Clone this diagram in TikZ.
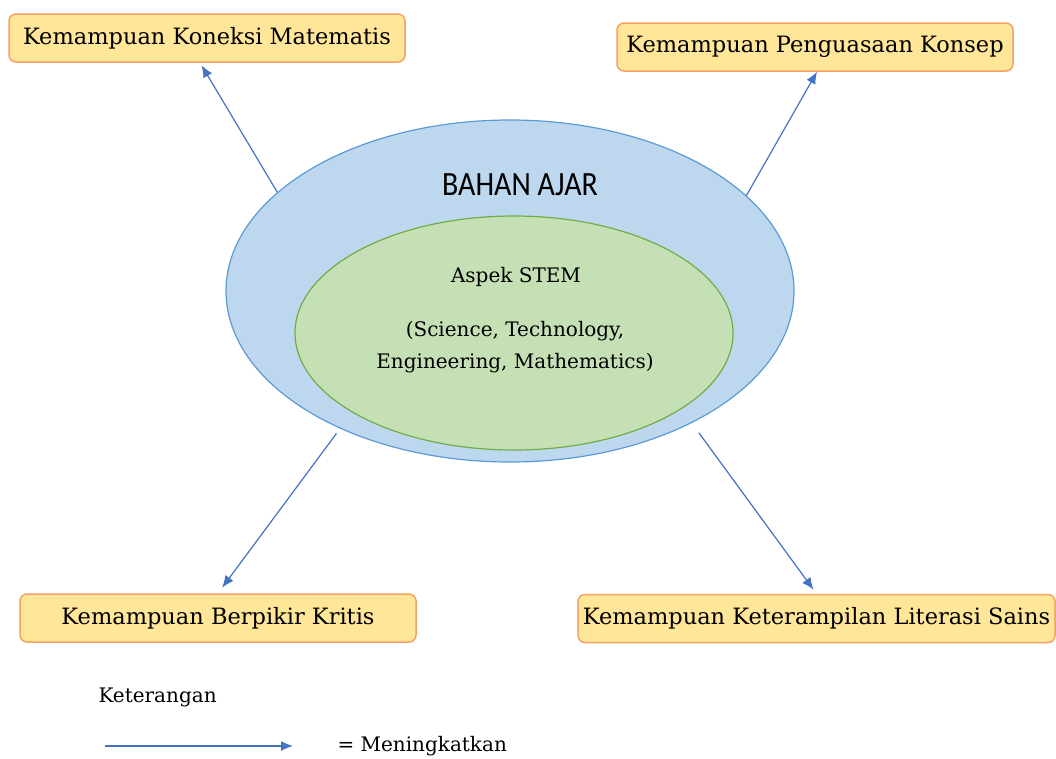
\documentclass[tikz,border=0pt]{standalone}
\usepackage{fontspec}
\setmainfont{DejaVu Serif}
\newfontfamily\judulfont{Carlito}
\usetikzlibrary{shapes.geometric, arrows.meta}
\definecolor{kotakisi}{HTML}{FFE699}
\definecolor{kotakgaris}{HTML}{F4A261}
\definecolor{luarisi}{HTML}{BDD7EE}
\definecolor{luargaris}{HTML}{5B9BD5}
\definecolor{dalamisi}{HTML}{C5E0B4}
\definecolor{dalamgaris}{HTML}{70AD47}
\definecolor{panah}{HTML}{4472C4}
\tikzset{
kemampuan/.style={draw=kotakgaris, fill=kotakisi, rounded corners=7pt, line width=1.5pt,
  minimum width=396pt, minimum height=48pt, inner sep=0pt, font=\fontsize{22.5}{26}\selectfont},
isi/.style={font=\fontsize{20}{32}\selectfont},
naik/.style={draw=panah, line width=1.2pt, -{Latex[length=12pt,width=10pt]}}
}
\begin{document}
\begin{tikzpicture}[x=1pt, y=-1pt]
  \useasboundingbox (0,0) rectangle (1056,758);
  % bahan ajar
  \node[ellipse, draw=luargaris, fill=luarisi, line width=1.2pt, minimum width=568pt, minimum height=342pt] (bahan) at (510,291) {};
  \node[ellipse, draw=dalamgaris, fill=dalamisi, line width=1.2pt, minimum width=438pt, minimum height=234pt] (stem) at (514,333) {};
  \node[font=\judulfont\fontsize{34}{40}\selectfont] (judul) at (520,185) {\scalebox{0.88}[1]{BAHAN AJAR}};
  \node[isi] (aspek) at (516,277) {Aspek STEM};
  \node[isi, align=center] (bidang) at (515,347) {(Science, Technology,\\Engineering, Mathematics)};
  % kemampuan yang ditingkatkan
  \node[kemampuan] (koneksi) at (207,38) {Kemampuan Koneksi Matematis};
  \node[kemampuan] (konsep) at (815,47) {Kemampuan Penguasaan Konsep};
  \node[kemampuan] (kritis) at (218,618) {Kemampuan Berpikir Kritis};
  \node[kemampuan, minimum width=477pt] (sains) at (816.5,618.5) {Kemampuan Keterampilan Literasi Sains};
  \draw[naik, shorten >=3pt] (bahan.157.8) -- ([xshift=-7pt]koneksi.south);
  \draw[naik] (bahan.22.2) -- ([xshift=2pt]konsep.south);
  \draw[naik, shorten <=6pt, shorten >=7pt] (bahan.219) -- (kritis.north);
  \draw[naik, shorten <=12pt, shorten >=5pt] (bahan.324.7) -- (sains.north);
  % keterangan
  \node[isi, anchor=west] (ket) at (95,697) {Keterangan};
  \coordinate (ka) at (105,746);
  \coordinate (kb) at (293,746);
  \draw[naik] (ka) -- (kb);
  \node[isi, anchor=west] (arti) at (334,746) {= Meningkatkan};
\end{tikzpicture}
\end{document}
